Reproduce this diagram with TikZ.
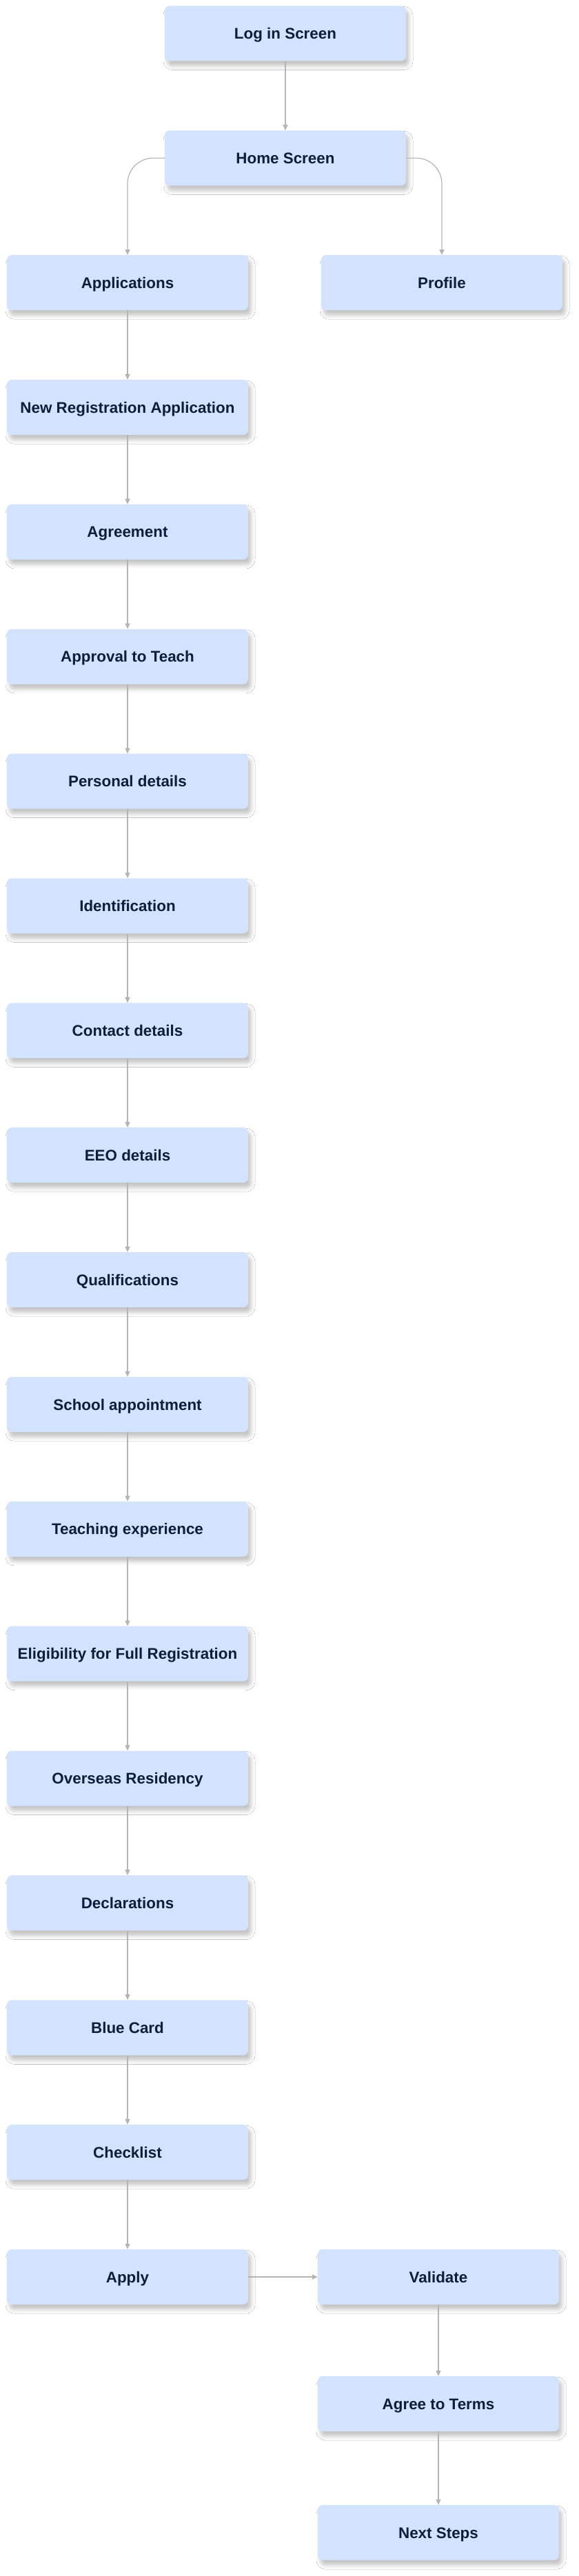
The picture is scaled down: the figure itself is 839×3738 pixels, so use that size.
\documentclass[tikz,border=0pt]{standalone}
\usepackage{fontspec}
\setmainfont{Liberation Sans}
\usetikzlibrary{arrows.meta,shadows.blur}
\definecolor{boxfill}{HTML}{D3E2FD}
\definecolor{boxtext}{HTML}{0C1E3B}
\definecolor{linecol}{HTML}{B4B4B4}
\begin{document}
\begin{tikzpicture}[x=1pt,y=-1pt,
  stepbox/.style={draw=none, fill=boxfill, rounded corners=7pt,
    minimum width=350pt, minimum height=80pt, inner sep=0pt, text=boxtext,
    text height=16pt, text depth=0pt,
    font=\bfseries\fontsize{22.4}{26}\selectfont,
    blur shadow={shadow xshift=4pt, shadow yshift=-7pt, shadow blur radius=6pt, shadow opacity=24}},
  conn/.style={draw=linecol, line width=1.2pt, -{Triangle[length=8pt,width=7pt]}}]
\fill[white] (0,0) rectangle (839,3738);
\useasboundingbox (0,0) rectangle (839,3738);

\node[stepbox] (login) at (414,48.5) {Log in Screen};
\node[stepbox] (home) at (414,229.4) {Home Screen};
\node[stepbox] (apps) at (185,410.2) {Applications};
\node[stepbox] (profile) at (641,410.2) {Profile};
\node[stepbox] (newreg) at (185,591.1) {New Registration Application};
\node[stepbox] (agreement) at (185,771.9) {Agreement};
\node[stepbox] (approval) at (185,952.8) {Approval to Teach};
\node[stepbox] (personal) at (185,1133.7) {Personal details};
\node[stepbox] (ident) at (185,1314.5) {Identification};
\node[stepbox] (contact) at (185,1495.4) {Contact details};
\node[stepbox] (eeo) at (185,1676.2) {EEO details};
\node[stepbox] (qual) at (185,1857.1) {Qualifications};
\node[stepbox] (school) at (185,2038) {School appointment};
\node[stepbox] (teaching) at (185,2218.8) {Teaching experience};
\node[stepbox] (elig) at (185,2399.7) {Eligibility for Full Registration};
\node[stepbox] (overseas) at (185,2580.5) {Overseas Residency};
\node[stepbox] (decl) at (185,2761.4) {Declarations};
\node[stepbox] (blue) at (185,2942.3) {Blue Card};
\node[stepbox] (check) at (185,3123.1) {Checklist};
\node[stepbox] (apply) at (185,3304) {Apply};
\node[stepbox] (validate) at (636,3304) {Validate};
\node[stepbox] (terms) at (636,3488) {Agree to Terms};
\node[stepbox] (next) at (636,3675) {Next Steps};

\draw[conn] (login) -- (home);
\draw[conn, rounded corners=37pt] (home.west) -- (apps.north |- home.west) -- (apps.north);
\draw[conn, rounded corners=37pt] (home.east) -- (profile.north |- home.east) -- (profile.north);
\draw[conn] (apps) -- (newreg);
\draw[conn] (newreg) -- (agreement);
\draw[conn] (agreement) -- (approval);
\draw[conn] (approval) -- (personal);
\draw[conn] (personal) -- (ident);
\draw[conn] (ident) -- (contact);
\draw[conn] (contact) -- (eeo);
\draw[conn] (eeo) -- (qual);
\draw[conn] (qual) -- (school);
\draw[conn] (school) -- (teaching);
\draw[conn] (teaching) -- (elig);
\draw[conn] (elig) -- (overseas);
\draw[conn] (overseas) -- (decl);
\draw[conn] (decl) -- (blue);
\draw[conn] (blue) -- (check);
\draw[conn] (check) -- (apply);
\draw[conn] (apply) -- (validate);
\draw[conn] (validate) -- (terms);
\draw[conn] (terms) -- (next);
\end{tikzpicture}
\end{document}
